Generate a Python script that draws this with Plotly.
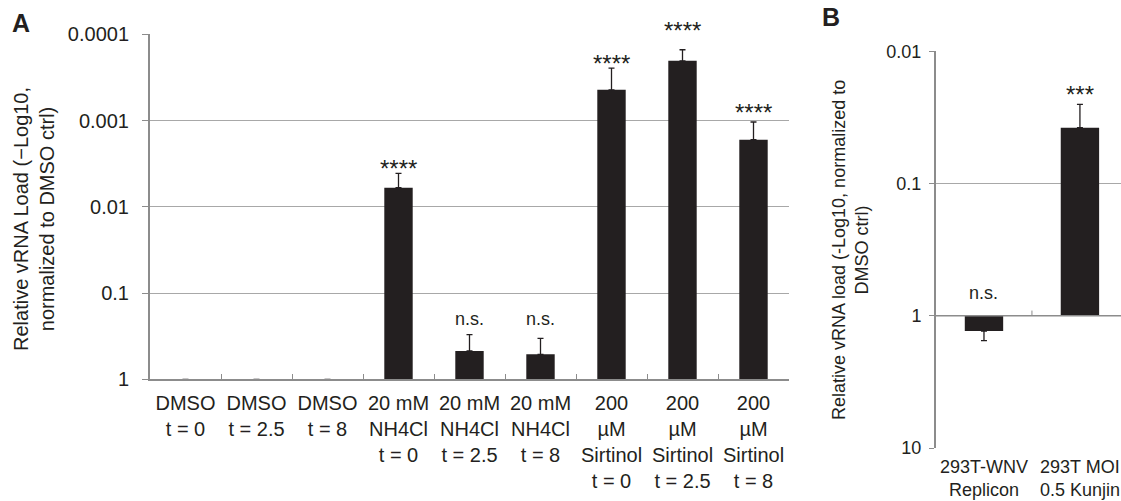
import numpy as np
import plotly.graph_objects as go

W, H = 1121, 501
FONT = "Liberation Sans, Arial, sans-serif"
BAR = "#231f20"
GRID = "#a8a8a8"
AXIS = "#8c8c8c"
BASE = 1.0

# ---------------- Panel A data ----------------
categories_A = ["DMSO<br>t = 0", "DMSO<br>t = 2.5", "DMSO<br>t = 8",
                "20 mM<br>NH4Cl<br>t = 0", "20 mM<br>NH4Cl<br>t = 2.5", "20 mM<br>NH4Cl<br>t = 8",
                "200<br>µM<br>Sirtinol<br>t = 0", "200<br>µM<br>Sirtinol<br>t = 2.5",
                "200<br>µM<br>Sirtinol<br>t = 8"]
values_A = [1, 1, 1, 0.0060, 0.47, 0.513, 0.00044, 0.000203, 0.00167]
err_upper_A = [None, None, None, 0.0041, 0.303, 0.335, 0.000247, 0.000151, 0.00104]
sig_A = ["", "", "", "****", "n.s.", "n.s.", "****", "****", "****"]
sig_pos_A = [None, None, None, 0.00306, 0.2017, 0.2017, 0.000186, 0.0000769, 0.000687]
ticks_A = [1, 0.1, 0.01, 0.001, 0.0001]
ticktext_A = ["1", "0.1", "0.01", "0.001", "0.0001"]
rangeA = [0, -4]

# ---------------- Panel B data ----------------
categories_B = ["293T-WNV<br>Replicon", "293T MOI<br>0.5 Kunjin"]
values_B = [1.306, 0.0379]
err_lower_B = [1.543, None]   # error extends toward larger values (drawn downward)
err_upper_B = [None, 0.0252]  # error extends toward smaller values (drawn upward)
sig_B = ["n.s.", "***"]
sig_pos_B = [0.668, 0.0192]
ticks_B = [0.01, 0.1, 1, 10]
ticktext_B = ["0.01", "0.1", "1", "10"]
rangeB = [1, -2]


def minus_err(vals, tops):
    return [np.nan if t is None else v - t for v, t in zip(vals, tops)]


def plus_err(vals, bots):
    return [np.nan if b is None else b - v for v, b in zip(vals, bots)]


def dom_frac(val, rng):
    # fraction of the axis domain (from bottom) for a value on a log axis with range rng
    return (np.log10(val) - rng[0]) / (rng[1] - rng[0])


fig = go.Figure()

arr_minus_A = minus_err(values_A, err_upper_A)
fig.add_trace(go.Bar(
    x=categories_A, y=[v - BASE for v in values_A], base=BASE, width=0.4,
    marker=dict(color=BAR, line=dict(width=0)),
    error_y=dict(type="data", symmetric=False,
                 array=[np.nan if np.isnan(m) else 0 for m in arr_minus_A],
                 arrayminus=arr_minus_A,
                 color=BAR, thickness=1.3, width=3),
    xaxis="x", yaxis="y", hoverinfo="skip"))

fig.add_trace(go.Bar(
    x=categories_B, y=[v - BASE for v in values_B], base=BASE, width=0.4,
    marker=dict(color=BAR, line=dict(width=0)),
    error_y=dict(type="data", symmetric=False,
                 array=[0 if np.isnan(p) else p for p in plus_err(values_B, err_lower_B)],
                 arrayminus=[0 if np.isnan(m) else m for m in minus_err(values_B, err_upper_B)],
                 color=BAR, thickness=1.3, width=3),
    xaxis="x2", yaxis="y2", hoverinfo="skip"))


def sig_annot(cat, s, p, xr, yr, rng):
    star = s.startswith("*")
    return dict(x=cat, y=dom_frac(p, rng), xref=xr, yref=yr + " domain", text=s,
                showarrow=False, yanchor="middle", yshift=-6 if star else 0,
                font=dict(family=FONT, size=24 if star else 18, color=BAR))


annotations = []
for c, s, p in zip(categories_A, sig_A, sig_pos_A):
    if s:
        annotations.append(sig_annot(c, s, p, "x", "y", rangeA))
for c, s, p in zip(categories_B, sig_B, sig_pos_B):
    annotations.append(sig_annot(c, s, p, "x2", "y2", rangeB))

# axis titles and panel letters
annotations += [
    dict(text="Relative vRNA Load (\u2212Log10,<br>normalized to DMSO ctrl)",
         textangle=-90, x=34 / W, y=1 - 219 / H, xref="paper", yref="paper",
         showarrow=False, xanchor="center", yanchor="middle",
         font=dict(family=FONT, size=20, color=BAR)),
    dict(text="Relative vRNA load (-Log10, normalized to<br>DMSO ctrl)",
         textangle=-90, x=850 / W, y=1 - 250 / H, xref="paper", yref="paper",
         showarrow=False, xanchor="center", yanchor="middle",
         font=dict(family=FONT, size=18, color=BAR)),
    dict(text="<b>A</b>", x=21 / W, y=1 - 23 / H, xref="paper", yref="paper",
         showarrow=False, xanchor="center", yanchor="middle",
         font=dict(family=FONT, size=25, color=BAR)),
    dict(text="<b>B</b>", x=831 / W, y=1 - 17 / H, xref="paper", yref="paper",
         showarrow=False, xanchor="center", yanchor="middle",
         font=dict(family=FONT, size=25, color=BAR)),
]

frac_one = dom_frac(BASE, rangeB)
shapes = [
    # x baseline at value 1 in panel B
    dict(type="line", xref="x2 domain", yref="y2 domain", x0=0, x1=1,
         y0=frac_one, y1=frac_one, line=dict(color=AXIS, width=1.5)),
    dict(type="line", xref="x2", yref="y2 domain", x0=0.5, x1=0.5,
         y0=frac_one, y1=frac_one + 0.013, line=dict(color=AXIS, width=1)),
]

fig.update_layout(
    template="none",
    width=W, height=H, margin=dict(l=0, r=0, t=0, b=0, pad=0),
    paper_bgcolor="white", plot_bgcolor="white", showlegend=False,
    xaxis=dict(domain=[150 / W, 789 / W], anchor="y", type="category", automargin=False,
               range=[-0.5, 8.5], showline=True, linecolor=AXIS, linewidth=2,
               ticks="inside", tickson="boundaries", ticklen=5, tickcolor=AXIS,
               tickwidth=1, showgrid=False, zeroline=False, ticklabelstandoff=5,
               tickangle=0,
               tickfont=dict(family=FONT, size=20, color=BAR)),
    yaxis=dict(domain=[1 - 379.3 / H, 1 - 34.3 / H], anchor="x", type="log", automargin=False,
               range=rangeA, tickmode="array", tickvals=ticks_A, ticktext=ticktext_A,
               showline=True, linecolor=AXIS, linewidth=2, ticks="outside",
               ticklen=6, tickcolor=AXIS, tickwidth=1, showgrid=True, gridcolor=GRID,
               gridwidth=1, zeroline=False, ticklabelstandoff=9,
               tickfont=dict(family=FONT, size=20, color=BAR)),
    xaxis2=dict(domain=[936 / W, 1.0], anchor="y2", type="category", automargin=False,
                range=[-0.5, 1.428], showline=False, ticks="", showgrid=False, zeroline=False,
                ticklabelstandoff=6, tickangle=0,
                tickfont=dict(family=FONT, size=18, color=BAR)),
    yaxis2=dict(domain=[1 - 448 / H, 1 - 51.2 / H], anchor="x2", type="log", automargin=False,
                range=rangeB, tickmode="array", tickvals=ticks_B, ticktext=ticktext_B,
                showline=True, linecolor=AXIS, linewidth=2, ticks="outside",
                ticklen=5, tickcolor=AXIS, tickwidth=1, showgrid=True, gridcolor=GRID,
                gridwidth=1, zeroline=False, ticklabelstandoff=4,
                tickfont=dict(family=FONT, size=18, color=BAR)),
    annotations=annotations, shapes=shapes,
)

fig.write_html("out.html", config={"displayModeBar": False},
               post_script="document.body.style.margin='0';document.body.style.padding='0';")
